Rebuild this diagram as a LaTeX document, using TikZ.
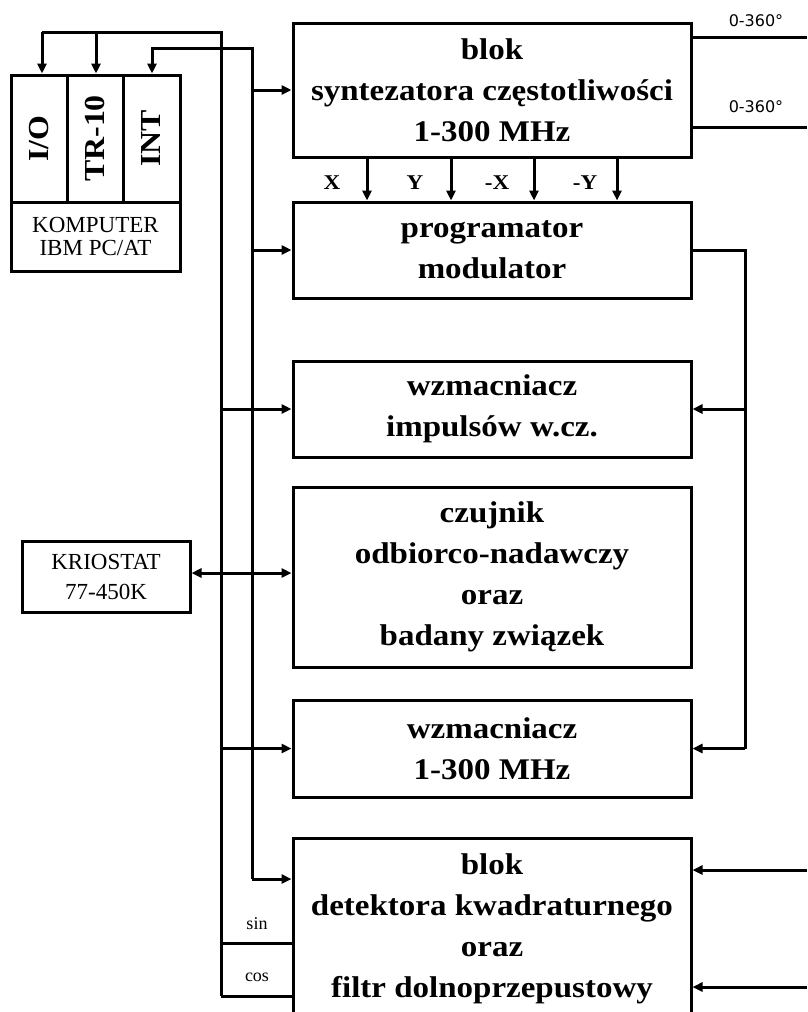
\documentclass[tikz,border=0pt]{standalone}
\usepackage{fontspec}
\usepackage{graphicx}
\setmainfont{Liberation Serif}
\newfontfamily\mybx[FakeStretch=1.1]{Liberation Serif}
\newfontfamily\mysans{DejaVu Sans}
\usetikzlibrary{arrows.meta}
\newcommand\bigf{\mybx\bfseries\fontsize{30}{41}\selectfont}
\newcommand\rotf{\mybx\bfseries\fontsize{29}{29}\selectfont}
\begin{document}
\begin{tikzpicture}[x=1pt,y=-1pt,line width=3pt,
  box/.style={draw,line width=3pt,inner sep=0pt,minimum width=398pt,align=center,font=\bigf},
  cell/.style={draw,line width=3pt,inner sep=0pt,align=center},
  arr/.style={-{Triangle[length=10pt,width=9pt]}},
  darr/.style={{Triangle[length=10pt,width=9pt]}-{Triangle[length=10pt,width=9pt]}},
  xylab/.style={inner sep=0pt,font=\mybx\bfseries\fontsize{21}{21}\selectfont},
  phlab/.style={inner sep=0pt,font=\mysans\fontsize{16}{16}\selectfont},
  sclab/.style={inner sep=0pt,font=\fontsize{18}{18}\selectfont}]
\useasboundingbox (0,0) rectangle (807,1012);

% main blocks
\node[box,minimum height=134pt] (syn) at (492,90) {blok\\syntezatora częstotliwości\\1-300 MHz};
\node[box,minimum height=96pt] (prog) at (492,250) {programator\\modulator};
\node[box,minimum height=96pt] (wimp) at (492,409) {wzmacniacz\\impulsów w.cz.};
\node[box,minimum height=180pt] (czuj) at (492,577) {czujnik\\odbiorco-nadawczy\\oraz\\badany związek};
\node[box,minimum height=97pt] (wzm) at (492,748.5) {wzmacniacz\\1-300 MHz};
\node[box,minimum height=182pt] (det) at (492,929) {blok\\detektora kwadraturnego\\oraz\\filtr dolnoprzepustowy};

% computer
\node[cell,minimum width=56pt,minimum height=127pt,font=\rotf] (io) at (39,138.5) {\rotatebox{90}{I/O}};
\node[cell,minimum width=56pt,minimum height=127pt,font=\rotf] (tr) at (95,138.5) {\rotatebox{90}{TR-10}};
\node[cell,minimum width=57pt,minimum height=127pt,font=\rotf] (int) at (151.5,138.5) {\rotatebox{90}{INT}};
\node[cell,minimum width=169pt,minimum height=69pt,font=\fontsize{23}{23}\selectfont] (komp) at (95.5,236.5) {KOMPUTER\\IBM PC/AT};

% kriostat
\node[cell,minimum width=168pt,minimum height=71pt,font=\fontsize{23}{30}\selectfont] (krio) at (106,576.5) {KRIOSTAT\\77-450K};

% buses
\coordinate (aTop) at (221,32);
\coordinate (aBot) at (221,996);
\coordinate (bTop) at (252,48);
\coordinate (bBot) at (252,879);

\draw (aBot) -- (aTop) -- ([xshift=3pt]io.north |- aTop);
\draw[arr] ([xshift=3pt]io.north |- aTop) -- ([xshift=3pt]io.north);
\draw[arr] ([xshift=1pt]tr.north |- aTop) -- ([xshift=1pt]tr.north);
\draw[arr] (bBot) -- (bTop) -| ([xshift=0.5pt]int.north);

\draw[arr] (syn.west -| bTop) -- (syn.west);
\draw[arr] (prog.west -| bTop) -- (prog.west);
\draw[arr] (wimp.west -| aTop) -- (wimp.west);
\draw[darr] ([yshift=3.5pt]krio.east) -- ([yshift=3.5pt]krio.east -| czuj.west);
\draw[arr] (wzm.west -| aTop) -- (wzm.west);
\draw[arr] (bBot) -- (bBot -| det.west);

% sin / cos
\coordinate (sinL) at (221,943);
\draw (sinL) -- (sinL -| det.west);
\draw (aBot) -- (aBot -| det.west);
\node[sclab] (lsin) at (257,924) {sin};
\node[sclab] (lcos) at (257,977) {cos};

% X Y -X -Y
\foreach \xx/\nm in {367/a,451/b,534/c,617/d}{
  \draw[arr] (syn.south -| \xx,0) -- (prog.north -| \xx,0);
}
\node[xylab] (lx) at (332,183) {X};
\node[xylab] (ly) at (415,183) {Y};
\node[xylab] (lmx) at (497,183) {-X};
\node[xylab] (lmy) at (585,183) {-Y};

% phase outputs
\coordinate (ph1) at (807,37);
\coordinate (ph2) at (807,127);
\draw (syn.east |- ph1) -- (ph1);
\draw (syn.east |- ph2) -- (ph2);
\node[phlab] (lp1) at (756,21) {0-360°};
\node[phlab] (lp2) at (756,107) {0-360°};

% feedback from programator
\coordinate (fb) at (745,250);
\draw (prog.east) -- (fb) -- (fb |- wzm.east);
\draw[arr] (fb |- wzm.east) -- (wzm.east);
\draw[arr] (fb |- wimp.east) -- (wimp.east);

% inputs to detector
\coordinate (in1) at (807,870);
\coordinate (in2) at (807,987);
\draw[arr] (in1) -- (in1 -| det.east);
\draw[arr] (in2) -- (in2 -| det.east);
\end{tikzpicture}
\end{document}
